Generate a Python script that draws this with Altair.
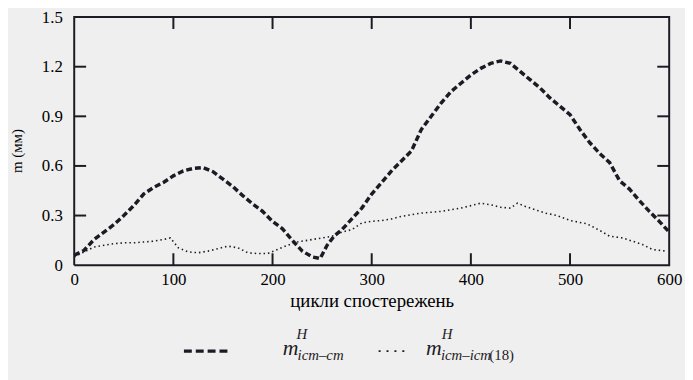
import altair as alt
import pandas as pd

# ---- data ----
cycles_cm = [0, 10, 20, 30, 40, 50, 60, 70, 80, 90, 100, 110, 120, 130, 140, 150,
             160, 170, 180, 190, 200, 210, 220, 230, 240, 248, 255, 262, 270, 280,
             290, 300, 310, 320, 330, 340, 350, 360, 370, 380, 390, 400, 410, 420,
             430, 440, 450, 460, 470, 480, 490, 500, 510, 520, 530, 540, 550, 560,
             570, 580, 590, 600]
m_icm_cm = [0.06, 0.09, 0.155, 0.20, 0.245, 0.30, 0.36, 0.43, 0.47, 0.50, 0.54,
            0.57, 0.585, 0.59, 0.565, 0.52, 0.475, 0.42, 0.37, 0.325, 0.265, 0.22,
            0.15, 0.085, 0.05, 0.04, 0.12, 0.175, 0.215, 0.28, 0.345, 0.43, 0.50,
            0.57, 0.63, 0.69, 0.82, 0.90, 0.98, 1.05, 1.10, 1.15, 1.19, 1.22,
            1.235, 1.22, 1.17, 1.12, 1.07, 1.01, 0.96, 0.91, 0.82, 0.74, 0.675,
            0.62, 0.51, 0.46, 0.39, 0.325, 0.265, 0.20]

cycles_icm = [0, 10, 20, 30, 40, 50, 60, 70, 80, 90, 97, 105, 115, 125, 135, 145,
              155, 165, 175, 185, 195, 205, 215, 225, 235, 245, 260, 270, 280, 290,
              300, 310, 320, 330, 340, 350, 360, 370, 380, 390, 400, 410, 420, 430,
              440, 447, 455, 465, 475, 487, 500, 517, 530, 540, 553, 563, 573, 583,
              597]
m_icm_icm18 = [0.05, 0.08, 0.11, 0.12, 0.13, 0.135, 0.135, 0.14, 0.145, 0.155,
               0.165, 0.105, 0.08, 0.075, 0.085, 0.10, 0.115, 0.105, 0.075, 0.07,
               0.07, 0.095, 0.12, 0.14, 0.15, 0.16, 0.175, 0.20, 0.215, 0.255,
               0.265, 0.27, 0.28, 0.295, 0.305, 0.315, 0.32, 0.325, 0.335, 0.345,
               0.36, 0.375, 0.365, 0.35, 0.345, 0.375, 0.355, 0.335, 0.315, 0.30,
               0.27, 0.25, 0.21, 0.175, 0.165, 0.145, 0.125, 0.095, 0.085]

x_tick_labels = [0, 100, 200, 300, 400, 500, 600]
y_tick_labels = [0, 0.3, 0.6, 0.9, 1.2, 1.5]
inner_x_ticks = [100, 200, 300, 400, 500]
inner_y_ticks = [0.3, 0.6, 0.9, 1.2]
x_range = [0, 600]
y_range = [0, 1.5]

x_title = "цикли спостережень"
y_title = "m (мм)"

W, H = 602, 251
FONT = "Liberation Serif"
INK = "#1d1a24"

df_cm = pd.DataFrame({"cycle": cycles_cm, "m": m_icm_cm})
df_icm = pd.DataFrame({"cycle": cycles_icm, "m": m_icm_icm18})

# frame outline through the data scales (corners of the axis ranges)
frame_df = pd.DataFrame({
    "cycle": [x_range[0], x_range[1], x_range[1], x_range[0], x_range[0]],
    "m": [y_range[0], y_range[0], y_range[1], y_range[1], y_range[0]],
    "order": [0, 1, 2, 3, 4],
})

# inward tick segments (about 12 px long) built from the tick lists
ty = 0.072   # 12 px of the y scale
tx = 12      # 12 px of the x scale
rows = []
for i, v in enumerate(inner_x_ticks):
    rows += [(f"b{i}", v, y_range[0], 0), (f"b{i}", v, y_range[0] + ty, 1),
             (f"t{i}", v, y_range[1], 0), (f"t{i}", v, y_range[1] - ty, 1)]
for i, v in enumerate(inner_y_ticks):
    rows += [(f"l{i}", x_range[0], v, 0), (f"l{i}", x_range[0] + tx, v, 1),
             (f"r{i}", x_range[1], v, 0), (f"r{i}", x_range[1] - tx, v, 1)]
ticks_df = pd.DataFrame(rows, columns=["tick", "cycle", "m", "order"])

xscale = alt.Scale(domain=x_range, nice=False, zero=False)
yscale = alt.Scale(domain=y_range, nice=False, zero=False)

x_axis = alt.Axis(values=x_tick_labels, ticks=False, domain=False, grid=False,
                  labelFont=FONT, labelFontSize=17, labelColor="#000000",
                  labelPadding=7, labelFlush=False,
                  title=x_title, titleFont=FONT, titleFontSize=19,
                  titleFontWeight="normal", titleColor="#000000", titlePadding=4)
y_axis = alt.Axis(values=y_tick_labels, ticks=False, domain=False, grid=False,
                  labelFont=FONT, labelFontSize=17, labelColor="#000000",
                  labelPadding=12, labelFlush=False,
                  labelExpr="datum.value == 0 ? '0' : format(datum.value, '.1f')",
                  title=y_title, titleFont=FONT, titleFontSize=15,
                  titleFontWeight="normal", titleColor="#000000",
                  titleX=-50, titleY=135, titleAngle=-90)

X = alt.X("cycle:Q", scale=xscale, axis=x_axis)
Y = alt.Y("m:Q", scale=yscale, axis=y_axis)

line_cm = alt.Chart(df_cm).mark_line(
    color=INK, strokeWidth=3.5, strokeDash=[6, 3]
).encode(x=X, y=Y)
line_icm = alt.Chart(df_icm).mark_line(
    color=INK, strokeWidth=1.6, strokeDash=[1.5, 3]
).encode(x=X, y=Y)

frame = alt.Chart(frame_df).mark_line(color=INK, strokeWidth=2).encode(
    x=X, y=Y, order="order:Q")
ticks = alt.Chart(ticks_df).mark_line(color=INK, strokeWidth=2).encode(
    x=X, y=Y, detail="tick:N", order="order:Q")

one = pd.DataFrame({"k": [0]})

# ---- hand-made legend below the plot ----
leg_y = 338
leg_dash = alt.Chart(one).mark_rule(color=INK, strokeWidth=3.5, strokeDash=[8, 4]).encode(
    x=alt.value(111), x2=alt.value(157), y=alt.value(leg_y))
leg_dot = alt.Chart(one).mark_rule(color=INK, strokeWidth=1.8, strokeDash=[2, 6]).encode(
    x=alt.value(308), x2=alt.value(340), y=alt.value(leg_y))

def txt(s, x, y, size, style="italic"):
    return alt.Chart(one).mark_text(
        text=s, font=FONT, fontSize=size, fontStyle=style, color=INK,
        align="left", baseline="alphabetic"
    ).encode(x=alt.value(x), y=alt.value(y))

legend = [
    txt("m", 211, leg_y + 4, 22),
    txt("H", 225, leg_y - 12, 15),
    txt("icm–cm", 226, leg_y + 9, 15),
    txt("m", 356, leg_y + 4, 22),
    txt("H", 372, leg_y - 12, 15),
    txt("icm–icm", 371, leg_y + 9, 15),
    txt("(18)", 420, leg_y + 9, 15, "normal"),
]

chart = alt.layer(
    line_cm, line_icm, frame, ticks, leg_dash, leg_dot, *legend
).properties(
    width=W, height=H,
    autosize=alt.AutoSizeParams(type="none"),
    padding={"left": 67, "top": 7, "right": 16, "bottom": 114},
    background="#efefef",
).configure_view(
    stroke=None
)

chart.save("out.html", embed_options={"renderer": "svg", "actions": False})
